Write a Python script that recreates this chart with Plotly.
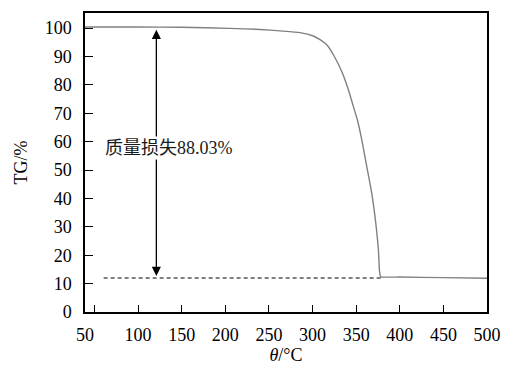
import plotly.graph_objects as go

# TG curve (temperature °C, mass %)
temp = [39.2, 100, 150, 205, 240, 262.7, 285.6, 300.9, 308.6, 316.3, 323.9, 333.5,
        341.1, 346.8, 351.4, 356.5, 362.2, 367.9, 372.5, 375.5, 376.7, 377.6, 378.3,
        400.4, 450, 500]
tg = [100.35, 100.35, 100.3, 99.9, 99.5, 99.0, 98.4, 97.2, 95.9, 94.1, 90.6, 84.7,
      78.3, 72.4, 67.7, 60.6, 51.2, 41.8, 31.3, 21.9, 14.8, 12.8, 12.4,
      12.3, 12.1, 11.9]

residual_x = [60.6, 378.3]
residual_y = [11.97, 11.97]

arrow_x = 121
arrow_top = 99.9
arrow_bottom = 12.7
label_text = "质量损失88.03%"
label_pos = (135.3, 57.7)

x_start = 39.2
x_ticks = [x_start, 100, 150, 200, 250, 300, 350, 400, 450, 500]
x_ticktext = ["50", "100", "150", "200", "250", "300", "350", "400", "450", "500"]
y_ticks = [0, 10, 20, 30, 40, 50, 60, 70, 80, 90, 100]

FONT = "Liberation Serif, Times New Roman, serif"
CJK_FONT = "Liberation Serif, Noto Sans CJK SC"

fig = go.Figure()
fig.add_trace(go.Scatter(x=temp, y=tg, mode="lines",
                         line=dict(color="#808080", width=1.4, shape="spline", smoothing=0.5),
                         hoverinfo="skip", showlegend=False))
fig.add_trace(go.Scatter(x=residual_x, y=residual_y, mode="lines",
                         line=dict(color="black", width=1, dash="4px,3px"),
                         hoverinfo="skip", showlegend=False))

fig.add_annotation(x=arrow_x, y=arrow_bottom, ax=arrow_x, ay=arrow_top,
                   xref="x", yref="y", axref="x", ayref="y", text="",
                   showarrow=True, arrowhead=2, startarrowhead=2, arrowside="end+start",
                   arrowsize=1.4, startarrowsize=1.4, arrowwidth=1.3, arrowcolor="black")
fig.add_annotation(x=label_pos[0], y=label_pos[1], xref="x", yref="y", text=label_text,
                   showarrow=False, bgcolor="white",
                   font=dict(family=CJK_FONT, size=18, color="#1a1a1a"))

# page body has an 8px margin, so the figure is sized/offset to compensate
fig.update_layout(
    width=516, height=363,
    margin=dict(l=77, r=37, t=5, b=59, autoexpand=False),
    paper_bgcolor="white", plot_bgcolor="white",
    font=dict(family=FONT, size=18, color="black"),
    xaxis=dict(range=[x_start, 500], tickmode="array", tickvals=x_ticks, ticktext=x_ticktext,
               ticks="inside", ticklen=7, tickwidth=1.3, tickcolor="black",
               minor=dict(tickmode="array", tickvals=[50], ticks="inside", ticklen=7,
                          tickwidth=1.3, tickcolor="black", showgrid=False),
               showline=True, linecolor="black", linewidth=1.5, mirror=True,
               showgrid=False, zeroline=False, ticklabelstandoff=6, automargin=False,
               tickfont=dict(family=FONT, size=18, color="black"),
               title=dict(text="<i>θ</i>/°C", font=dict(family=FONT, size=18, color="black"),
                          standoff=0)),
    yaxis=dict(range=[0, 105.3], tickmode="array", tickvals=y_ticks,
               ticks="inside", ticklen=8, tickwidth=1.3, tickcolor="black",
               showline=True, linecolor="black", linewidth=1.5, mirror=True,
               showgrid=False, zeroline=False, ticklabelstandoff=8, automargin=False,
               tickfont=dict(family=FONT, size=18, color="black"),
               title=dict(text="TG/%", font=dict(family=FONT, size=18, color="black"),
                          standoff=12)),
)

fig.write_html("out.html")
